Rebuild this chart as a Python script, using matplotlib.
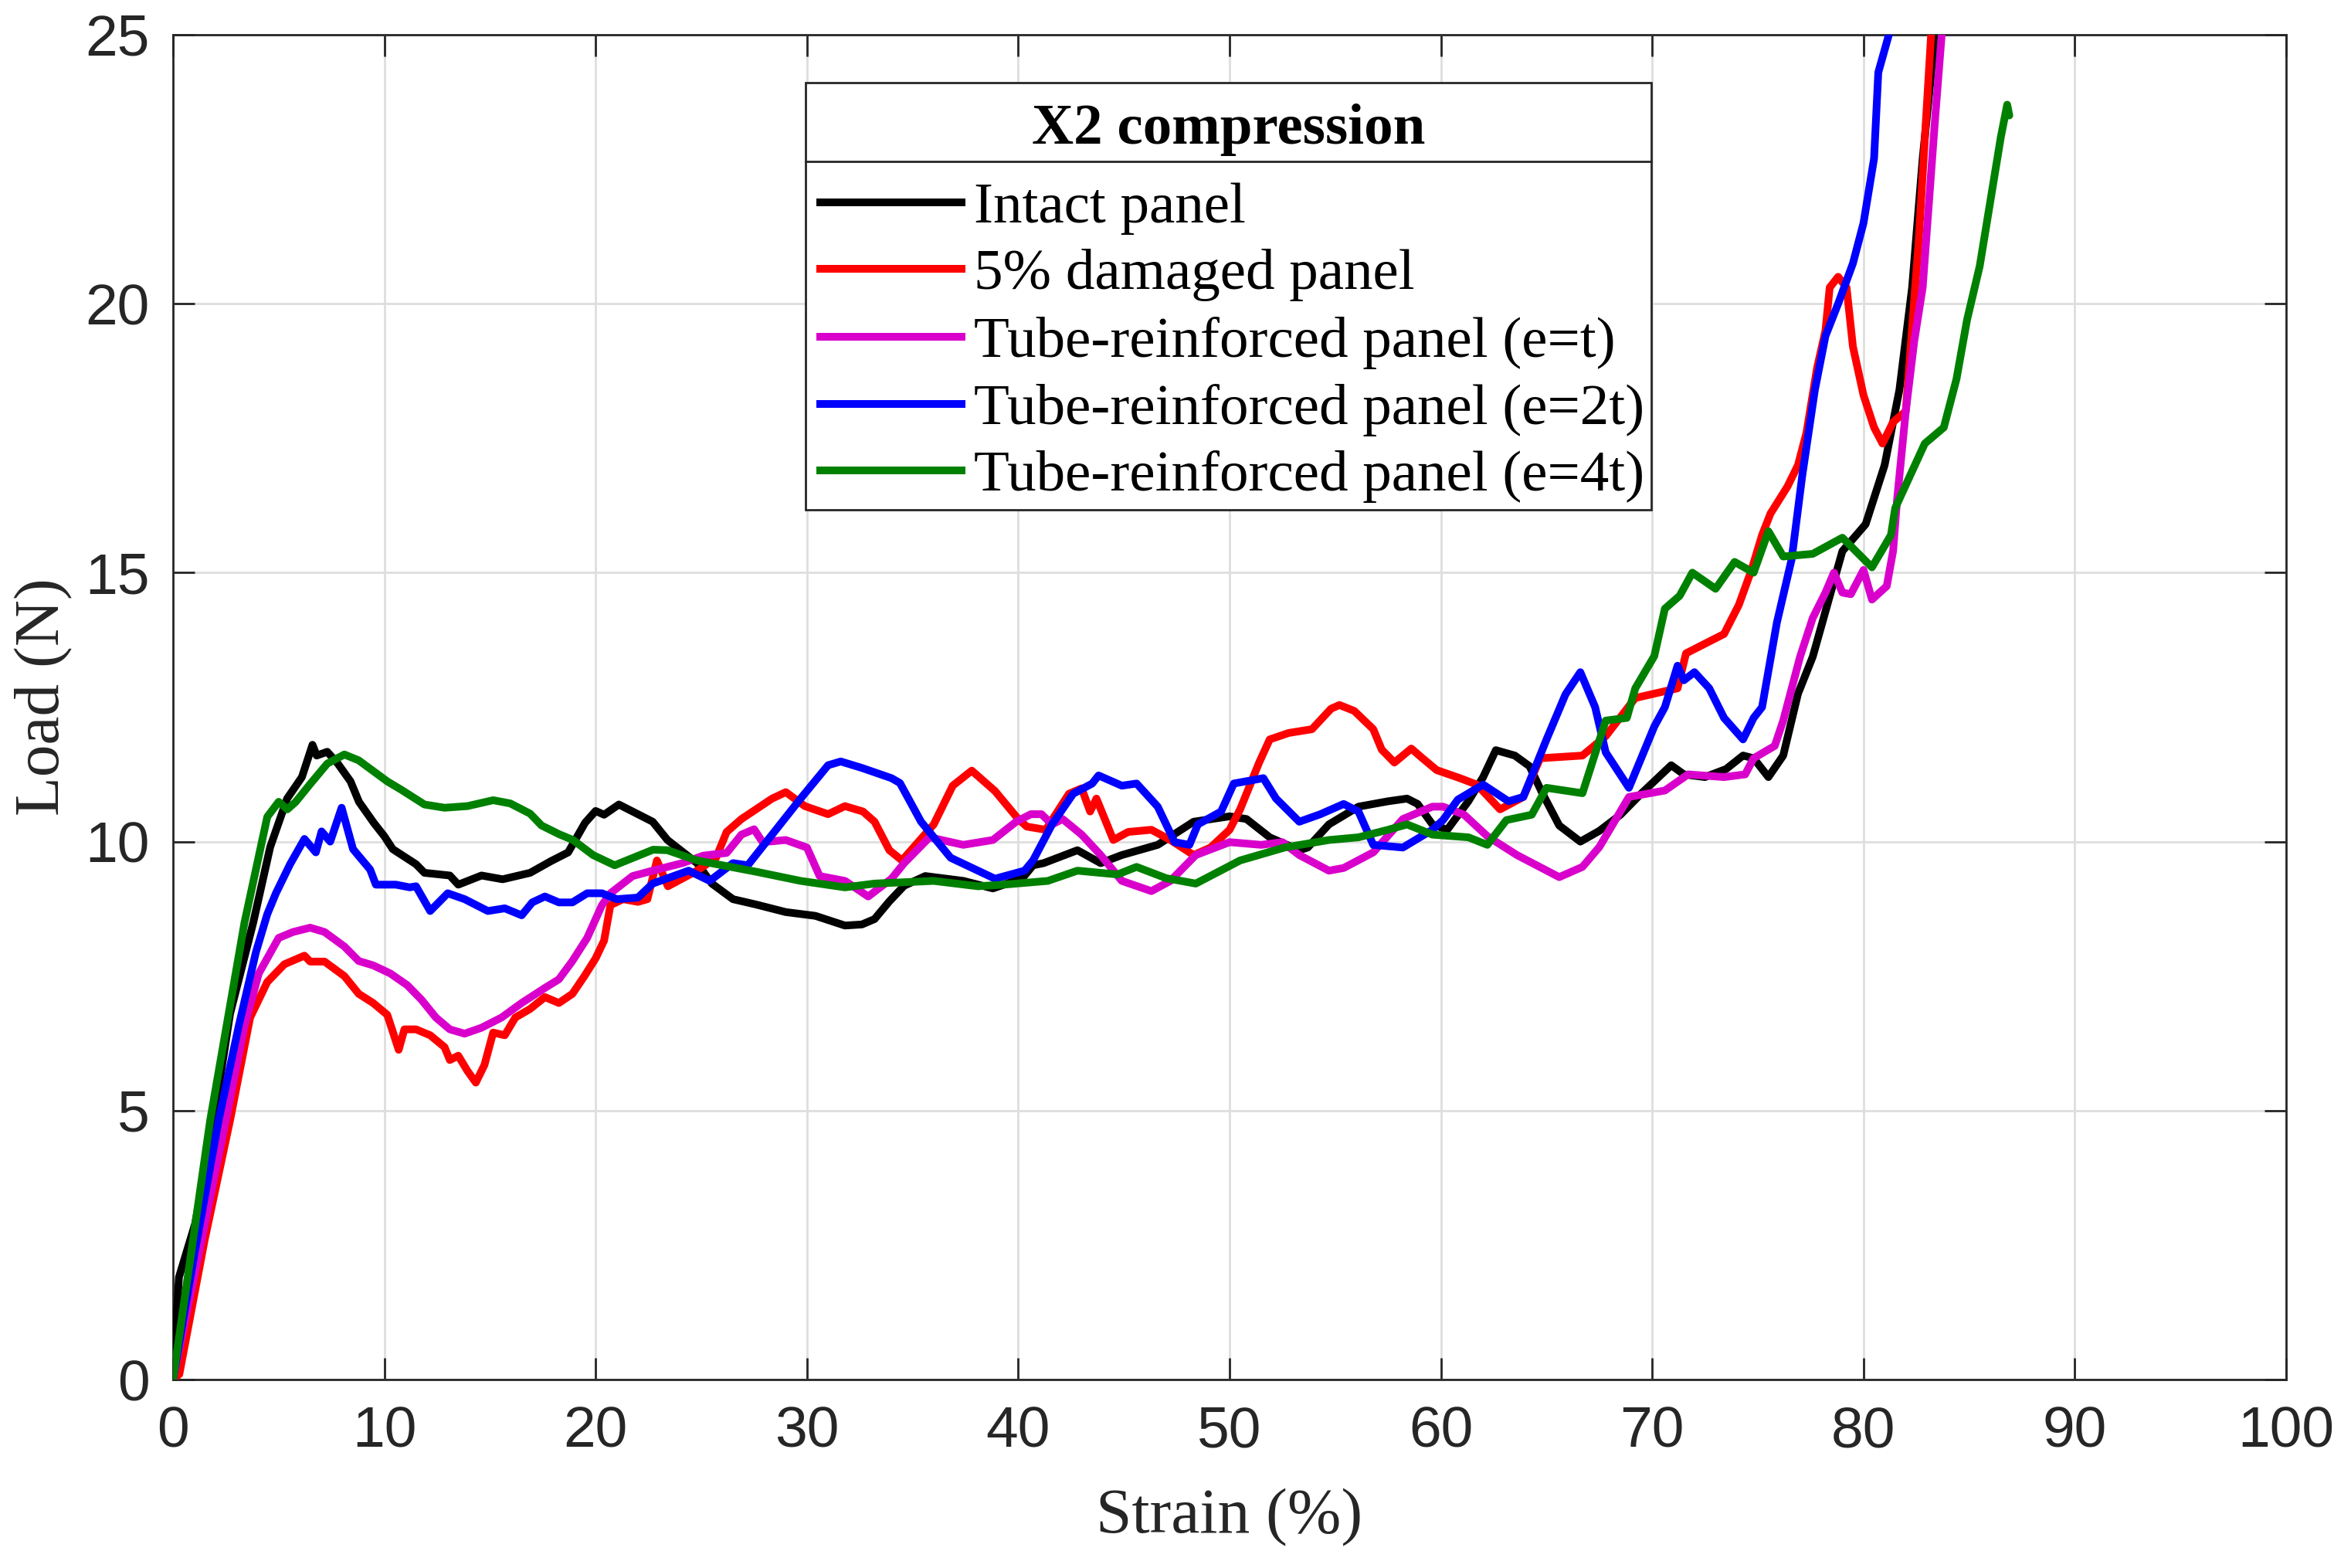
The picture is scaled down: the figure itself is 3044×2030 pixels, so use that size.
import matplotlib
matplotlib.use("Agg")
import matplotlib.pyplot as plt
from matplotlib.lines import Line2D
from matplotlib.patches import Rectangle

# ---------------- data ----------------
intact_x = [0, 0.28, 1.05, 1.8, 2.7, 3.8, 4.6, 5.4, 6.1, 6.6, 6.8, 7.3, 7.8, 8.4, 8.8, 9.5, 10.0, 10.4,
            11.5, 11.9, 13.1, 13.5, 14.6, 15.6, 16.9, 17.9, 18.7, 19.5, 20.0, 20.4, 21.1, 22.0, 22.7,
            23.4, 24.8, 25.5, 26.5, 27.6, 29.0, 30.4, 31.8, 32.6, 33.2, 33.9, 34.6, 35.6, 37.4, 38.8,
            40.2, 40.7, 41.2, 42.8, 43.9, 44.9, 46.6, 48.3, 50.0, 50.8, 51.9, 53.3, 53.7, 54.7, 56.1,
            57.5, 58.4, 58.9, 59.6, 60.3, 61.3, 62.0, 62.6, 63.5, 64.2, 64.8, 65.6, 66.6, 67.5, 68.5,
            69.5, 70.9, 71.5, 72.5, 73.5, 74.3, 74.8, 75.5, 76.2, 76.9, 77.6, 79.0, 80.1, 81.0, 81.7,
            82.3, 82.8, 83.4, 83.6]
intact_y = [0, 1.9, 2.9, 4.5, 6.8, 8.5, 9.9, 10.8, 11.2, 11.8, 11.6, 11.67, 11.45, 11.12, 10.74, 10.35,
            10.1, 9.86, 9.58, 9.42, 9.37, 9.2, 9.37, 9.3, 9.42, 9.64, 9.8, 10.35, 10.57, 10.5, 10.69,
            10.51, 10.37, 10.03, 9.6, 9.22, 8.93, 8.83, 8.69, 8.62, 8.44, 8.46, 8.56, 8.89, 9.18, 9.36,
            9.27, 9.13, 9.32, 9.56, 9.6, 9.84, 9.6, 9.75, 9.94, 10.37, 10.47, 10.42, 10.08, 9.84, 9.89,
            10.32, 10.65, 10.75, 10.8, 10.7, 10.32, 10.22, 10.75, 11.2, 11.7, 11.6, 11.4, 10.9, 10.3,
            10.0, 10.2, 10.5, 10.9, 11.42, 11.25, 11.2, 11.35, 11.6, 11.55, 11.2, 11.6, 12.75, 13.44,
            15.4, 15.9, 17.0, 18.4, 20.3, 22.7, 25.05, 25.5]

damaged_x = [0, 0.3, 1.5, 2.7, 3.65, 4.46, 5.27, 6.22, 6.49, 7.17, 8.11, 8.79, 9.47, 10.14, 10.68, 10.95,
             11.5, 12.17, 12.85, 13.1, 13.5, 13.93, 14.33, 14.74, 15.15, 15.7, 16.2, 16.9, 17.6, 18.26,
             18.9, 19.47, 20.0, 20.4, 20.7, 21.3, 22.0, 22.45, 22.9, 23.42, 24.8, 25.7, 26.2, 26.9,
             28.35, 29.0, 29.9, 31.0, 31.8, 32.65, 33.2, 33.9, 34.5, 36.0, 36.9, 37.8, 38.9, 40.0,
             40.4, 41.3, 42.4, 43.0, 43.4, 43.7, 44.5, 45.2, 46.3, 47.2, 48.3, 49.1, 50.0, 50.5, 51.4,
             51.9, 52.8, 53.9, 54.8, 55.2, 55.9, 56.8, 57.2, 57.8, 58.6, 59.1, 59.8, 60.9, 61.7, 62.8,
             63.9, 64.7, 66.7, 67.8, 69.2, 71.2, 71.6, 73.4, 74.1, 74.7, 75.2, 75.6, 76.4, 76.9, 77.3,
             77.8, 78.2, 78.4, 78.8, 79.2, 79.5, 80.0, 80.5, 80.9, 81.4, 82.0, 82.6, 83.2, 83.4]
damaged_y = [0, 0.1, 2.6, 4.82, 6.73, 7.39, 7.72, 7.88, 7.77, 7.77, 7.5, 7.17, 7.0, 6.78, 6.13, 6.51,
             6.51, 6.4, 6.18, 5.94, 6.02, 5.74, 5.52, 5.85, 6.45, 6.4, 6.73, 6.89, 7.11, 7.0, 7.17, 7.5,
             7.83, 8.16, 8.82, 8.93, 8.88, 8.93, 9.65, 9.17, 9.46, 9.7, 10.18, 10.42, 10.8, 10.92, 10.66,
             10.51, 10.66, 10.56, 10.37, 9.84, 9.65, 10.32, 11.04, 11.32, 10.94, 10.42, 10.28, 10.22,
             10.89, 10.99, 10.56, 10.8, 10.03, 10.18, 10.22, 10.03, 9.75, 9.89, 10.22, 10.6, 11.47, 11.9,
             12.02, 12.09, 12.47, 12.54, 12.43, 12.09, 11.71, 11.47, 11.73, 11.56, 11.33, 11.18, 11.06,
             10.6, 10.83, 11.55, 11.6, 11.96, 12.67, 12.85, 13.5, 13.86, 14.4, 15.05, 15.7, 16.1, 16.6,
             17.0, 17.6, 18.8, 19.5, 20.3, 20.5, 20.3, 19.2, 18.3, 17.7, 17.4, 17.8, 18.0, 21.1, 25.0,
             25.5]

tube_t_x = [0, 1.2, 2.5, 3.38, 4.06, 5.0, 5.68, 6.49, 7.17, 8.11, 8.79, 9.47, 10.28, 11.09, 11.76, 12.44,
            13.1, 13.8, 14.6, 15.55, 16.5, 17.6, 18.26, 18.9, 19.6, 20.3, 20.7, 21.75, 22.7, 24.1, 25.1,
            26.2, 26.9, 27.5, 27.9, 29.0, 30.0, 30.6, 31.8, 32.9, 34.0, 34.6, 35.8, 37.4, 38.8, 39.9,
            40.6, 41.1, 41.6, 42.1, 43.0, 43.9, 44.9, 46.3, 47.2, 48.4, 50.0, 51.5, 52.5, 53.3, 54.7,
            55.4, 56.8, 58.2, 59.6, 60.1, 61.1, 62.2, 63.6, 65.6, 66.7, 67.5, 68.9, 70.6, 71.7, 73.4,
            74.4, 74.8, 75.8, 76.2, 77.0, 77.6, 78.2, 78.6, 79.0, 79.4, 80.0, 80.4, 81.1, 81.4, 81.6,
            82.0, 82.4, 82.8, 83.1, 83.4, 83.7, 83.9]
tube_t_y = [0, 2.3, 4.82, 6.57, 7.55, 8.21, 8.32, 8.4, 8.32, 8.05, 7.78, 7.7, 7.55, 7.33, 7.06, 6.73,
            6.51, 6.43, 6.54, 6.73, 7.0, 7.28, 7.44, 7.78, 8.21, 8.82, 9.04, 9.36, 9.46, 9.6, 9.74, 9.79,
            10.13, 10.23, 9.99, 10.03, 9.89, 9.36, 9.27, 8.98, 9.31, 9.6, 10.08, 9.94, 10.03, 10.37,
            10.51, 10.51, 10.32, 10.42, 10.13, 9.75, 9.27, 9.08, 9.27, 9.75, 9.99, 9.94, 9.99, 9.75,
            9.46, 9.51, 9.8, 10.42, 10.65, 10.65, 10.5, 10.1, 9.75, 9.34, 9.53, 9.9, 10.83, 10.95,
            11.25, 11.2, 11.25, 11.55, 11.78, 12.25, 13.44, 14.16, 14.63, 15.0, 14.63, 14.6, 15.05,
            14.5, 14.75, 15.4, 16.4, 18.0, 19.3, 20.3, 21.9, 23.5, 25.0, 25.5]

tube_2t_x = [0, 1.0, 2.16, 3.11, 3.92, 4.46, 4.87, 5.54, 6.22, 6.76, 7.03, 7.44, 7.98, 8.52, 9.33, 9.6,
             10.55, 11.2, 11.5, 12.17, 13.0, 13.8, 14.9, 15.7, 16.5, 17.0, 17.6, 18.26, 18.9, 19.6, 20.3,
             21.0, 22.0, 22.7, 24.4, 25.4, 26.5, 27.2, 28.35, 29.7, 31.0, 31.6, 32.6, 34.0, 34.4, 35.4,
             36.8, 38.9, 40.3, 40.7, 41.6, 42.6, 43.5, 43.8, 44.9, 45.6, 46.6, 47.4, 48.1, 48.5, 49.6,
             50.2, 50.9, 51.6, 52.2, 53.3, 54.3, 55.4, 56.1, 56.8, 58.2, 59.6, 60.1, 60.8, 62.0, 63.2,
             63.9, 65.0, 65.9, 66.6, 67.3, 67.8, 68.9, 70.1, 70.6, 71.2, 71.5, 72.0, 72.7, 73.4, 74.3,
             74.8, 75.2, 75.9, 76.6, 77.1, 77.7, 78.2, 78.8, 79.5, 80.0, 80.5, 80.7, 81.2, 81.4]
tube_2t_y = [0, 2.3, 4.82, 6.57, 7.94, 8.65, 9.04, 9.58, 10.05, 9.8, 10.19, 10.0, 10.63, 9.86, 9.48, 9.2,
             9.2, 9.15, 9.17, 8.71, 9.04, 8.93, 8.71, 8.76, 8.63, 8.87, 8.98, 8.87, 8.87, 9.04, 9.04,
             8.93, 8.96, 9.22, 9.46, 9.27, 9.6, 9.56, 10.13, 10.8, 11.42, 11.49, 11.37, 11.18, 11.09,
             10.37, 9.7, 9.31, 9.46, 9.65, 10.32, 10.89, 11.08, 11.23, 11.04, 11.08, 10.65, 9.99, 9.94,
             10.32, 10.56, 11.08, 11.13, 11.18, 10.8, 10.37, 10.51, 10.7, 10.56, 9.94, 9.89, 10.22, 10.4,
             10.78, 11.06, 10.75, 10.83, 11.9, 12.74, 13.15, 12.5, 11.66, 11.0, 12.14, 12.5, 13.27, 13.0,
             13.15, 12.85, 12.3, 11.9, 12.3, 12.5, 14.07, 15.25, 16.8, 18.4, 19.4, 20.0, 20.75, 21.5,
             22.7, 24.3, 25.0, 25.5]

tube_4t_x = [0, 1.76, 3.38, 4.46, 5.0, 5.41, 5.81, 6.49, 7.3, 8.11, 8.79, 10.14, 10.82, 11.9, 12.85,
             13.93, 15.15, 15.96, 16.9, 17.44, 18.26, 18.93, 19.88, 20.9, 22.72, 23.4, 24.8, 27.6, 29.7,
             31.8, 33.2, 36.0, 38.1, 39.3, 41.4, 42.8, 44.7, 45.6, 47.0, 48.4, 50.5, 52.6, 54.7, 56.1,
             57.5, 58.4, 59.6, 61.3, 62.2, 63.1, 64.3, 65.0, 66.7, 67.8, 68.8, 69.2, 70.1, 70.6, 71.3,
             71.9, 73.0, 73.9, 74.8, 75.5, 76.2, 77.6, 79.0, 80.4, 81.3, 81.5, 82.2, 82.9, 83.8, 84.4,
             84.9, 85.5, 86.0, 86.5, 86.8, 86.9]
tube_4t_y = [0, 4.82, 8.49, 10.46, 10.74, 10.6, 10.74, 11.07, 11.45, 11.62, 11.51, 11.12, 10.96, 10.69,
             10.63, 10.66, 10.77, 10.71, 10.52, 10.3, 10.14, 10.03, 9.75, 9.56, 9.85, 9.84, 9.65, 9.44,
             9.27, 9.15, 9.22, 9.27, 9.17, 9.2, 9.27, 9.46, 9.39, 9.53, 9.32, 9.22, 9.65, 9.89, 10.03,
             10.08, 10.22, 10.32, 10.13, 10.08, 9.94, 10.4, 10.5, 11.0, 10.9, 12.25, 12.3, 12.85, 13.45,
             14.33, 14.57, 15.0, 14.7, 15.2, 15.0, 15.77, 15.3, 15.35, 15.65, 15.1, 15.7, 16.2, 16.8,
             17.4, 17.7, 18.6, 19.7, 20.7, 21.9, 23.1, 23.7, 23.5]

series_labels = ["Intact panel", "5% damaged panel", "Tube-reinforced panel (e=t)",
                 "Tube-reinforced panel (e=2t)", "Tube-reinforced panel (e=4t)"]
series_colors = ["#000000", "#FF0000", "#D900CC", "#0000FF", "#008000"]
legend_title = "X2 compression"

x_ticks = [0, 10, 20, 30, 40, 50, 60, 70, 80, 90, 100]
y_ticks = [0, 5, 10, 15, 20, 25]

# ---------------- figure ----------------
W, H = 3044, 2030
DPI = 200
fig = plt.figure(figsize=(W / DPI, H / DPI), dpi=DPI)

L, R, T, B = 224, 2960, 45, 1786
ax = fig.add_axes([L / W, 1 - B / H, (R - L) / W, (B - T) / H])

series = [(intact_x, intact_y), (damaged_x, damaged_y), (tube_t_x, tube_t_y),
          (tube_2t_x, tube_2t_y), (tube_4t_x, tube_4t_y)]
LW = 3.6
for (xs, ys), c in zip(series, series_colors):
    ax.plot(xs, ys, color=c, lw=LW, solid_joinstyle="round", solid_capstyle="round", zorder=3)

ax.set_xlim(0, 100)
ax.set_ylim(0, 25)
ax.set_xticks(x_ticks)
ax.set_yticks(y_ticks)
ax.grid(True, color="#DEDEDE", lw=1.0, zorder=0)
ax.set_axisbelow(True)

tick_font = dict(family="Liberation Sans", size=27)
ax.set_xticklabels([str(v) for v in x_ticks], **tick_font, color="#262626")
ax.set_yticklabels([str(v) for v in y_ticks], **tick_font, color="#262626")
ax.tick_params(axis="both", direction="in", length=10, width=1.0, color="#262626",
               top=True, right=True)
ax.tick_params(axis="x", pad=12)
ax.tick_params(axis="y", pad=11)
for s in ax.spines.values():
    s.set_color("#262626")
    s.set_linewidth(1.0)

label_font = dict(family="Liberation Serif", size=30, color="#262626")
fig.text(1592 / W, 1 - 1965 / H, "Strain (%)", ha="center", va="center", **label_font)
fig.text(57 / W, 1 - 902 / H, "Load (N)", ha="center", va="center", rotation=90, **label_font)

# ---------------- legend (manual, MATLAB style with titled box) ----------------
def fx(px):
    return px / W


def fy(py):
    return 1 - py / H


lg_l, lg_r, lg_t, lg_b, lg_sep = 1043, 2138, 107, 660, 209
fig.add_artist(Rectangle((fx(lg_l), fy(lg_b)), fx(lg_r) - fx(lg_l), fy(lg_t) - fy(lg_b),
                         transform=fig.transFigure, facecolor="white", edgecolor="#262626",
                         lw=1.0, zorder=10))
fig.add_artist(Line2D([fx(lg_l), fx(lg_r)], [fy(lg_sep), fy(lg_sep)], transform=fig.transFigure,
                      color="#262626", lw=1.0, zorder=11))
fig.text(fx((lg_l + lg_r) / 2), fy(186), legend_title, ha="center", va="baseline",
         family="Liberation Serif", size=27, weight="bold", color="black", zorder=12)

row_y = [261.5, 348, 435.6, 523, 609]
for lab, c, yy in zip(series_labels, series_colors, row_y):
    fig.add_artist(Line2D([fx(1062), fx(1245)], [fy(yy), fy(yy)], transform=fig.transFigure,
                          color=c, lw=LW, zorder=12))
    fig.text(fx(1261), fy(yy + 26), lab, ha="left", va="baseline",
             family="Liberation Serif", size=27, color="black", zorder=12)

fig.savefig("out.png", dpi=DPI, facecolor="white")
